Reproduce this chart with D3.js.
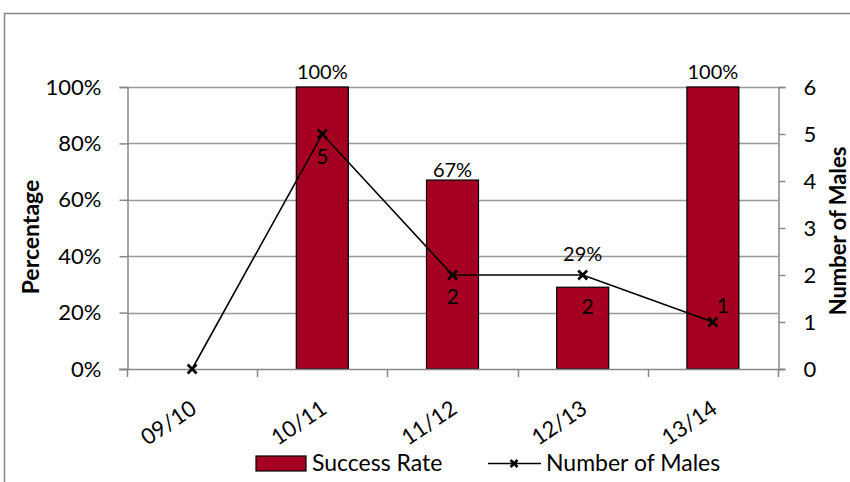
<!DOCTYPE html>
<html><head><meta charset="utf-8">
<script src="https://cdn.jsdelivr.net/npm/d3@7"></script>
<style>body{margin:0;background:#fff}svg{display:block}text{font-family:Lato,"Open Sans",sans-serif}</style>
</head><body>
<svg id="c" width="850" height="482"></svg>
<script>
const categories = ["09/10","10/11","11/12","12/13","13/14"];
const successRate = [null, 1.00, 0.67, 0.29, 1.00];
const successLabels = ["", "100%", "67%", "29%", "100%"];
const numberOfMales = [0, 5, 2, 2, 1];
const pctTicks = [0, 0.2, 0.4, 0.6, 0.8, 1.0];
const countTicks = [0, 1, 2, 3, 4, 5, 6];

const svg = d3.select("#c");
const M = {l:127, r:778, t:87, b:369};
const fs = 22;

// outer frame
svg.append("rect").attr("x",4.5).attr("y",13.5).attr("width",860).attr("height",490)
  .attr("fill","none").attr("stroke","#888").attr("stroke-width",1.5);

const x = d3.scaleBand().domain(categories).range([M.l, M.r]).paddingInner(0).paddingOuter(0);
const yL = d3.scaleLinear().domain([0,1]).range([M.b, M.t]);
const yR = d3.scaleLinear().domain([0,6]).range([M.b, M.t]);

// gridlines
svg.append("g").selectAll("line").data(pctTicks.filter(d=>d>0)).join("line")
  .attr("x1",M.l).attr("x2",M.r).attr("y1",d=>Math.round(yL(d))+0.5).attr("y2",d=>Math.round(yL(d))+0.5)
  .attr("stroke","#999").attr("stroke-width",1.3);

// bars
const bw = 52;
svg.append("g").selectAll("rect").data(categories.map((c,i)=>({c,v:successRate[i]})).filter(d=>d.v!=null)).join("rect")
  .attr("x",d=>x(d.c)+x.bandwidth()/2-bw/2).attr("width",bw)
  .attr("y",d=>yL(d.v)).attr("height",d=>yL(0)-yL(d.v))
  .attr("fill","#A50021").attr("stroke","#000").attr("stroke-width",1.2);

// left axis
const axL = svg.append("g").attr("transform",`translate(${M.l+0.5},0)`)
  .call(d3.axisLeft(yL).tickValues(pctTicks).tickFormat(d3.format(".0%")).tickSize(8).tickPadding(18));
axL.select(".domain").attr("stroke","#888").attr("stroke-width",1.5);
axL.selectAll(".tick line").attr("stroke","#888").attr("stroke-width",1.5);
axL.selectAll("text").attr("font-size",fs).attr("fill","#000").style("font-family","Lato, sans-serif");

// right axis
const axR = svg.append("g").attr("transform",`translate(${M.r+0.5},0)`)
  .call(d3.axisRight(yR).tickValues(countTicks).tickFormat(d3.format("d")).tickSize(7).tickPadding(18));
axR.select(".domain").attr("stroke","#888").attr("stroke-width",1.5);
axR.selectAll(".tick line").attr("stroke","#888").attr("stroke-width",1.5);
axR.selectAll("text").attr("font-size",fs).attr("fill","#000").style("font-family","Lato, sans-serif");

// bottom axis
const bounds = categories.map(c=>x(c)).concat([M.r]);
const axB = svg.append("g");
axB.append("line").attr("x1",M.l-8).attr("x2",M.r+6).attr("y1",M.b+0.5).attr("y2",M.b+0.5)
  .attr("stroke","#888").attr("stroke-width",1.5);
axB.selectAll("line.t").data(bounds).join("line").attr("class","t")
  .attr("x1",d=>Math.round(d)+0.5).attr("x2",d=>Math.round(d)+0.5).attr("y1",M.b).attr("y2",M.b+8)
  .attr("stroke","#888").attr("stroke-width",1.5);
axB.selectAll("text").data(categories).join("text")
  .attr("transform",d=>`translate(${x(d)+x.bandwidth()/2+6},${M.b+43}) rotate(-34)`)
  .attr("text-anchor","end").attr("font-size",fs).attr("fill","#000").text(d=>d);

// line series
const pts = categories.map((c,i)=>({c,v:numberOfMales[i]}));
const line = d3.line().x(d=>x(d.c)+x.bandwidth()/2).y(d=>yR(d.v));
svg.append("path").datum(pts).attr("d",line).attr("fill","none").attr("stroke","#000").attr("stroke-width",1.6);
const mk = 4.5;
const markers = svg.append("g").selectAll("g").data(pts).join("g")
  .attr("transform",d=>`translate(${x(d.c)+x.bandwidth()/2},${yR(d.v)})`);
markers.append("path").attr("d",`M${-mk},${-mk}L${mk},${mk}M${-mk},${mk}L${mk},${-mk}`)
  .attr("stroke","#000").attr("stroke-width",2.6);

// bar labels
const dfs = 20;
const barLabelDy = [0, -8, -3, -26, -8];
svg.append("g").selectAll("text").data(categories.map((c,i)=>({c,v:successRate[i],t:successLabels[i],dy:barLabelDy[i]})).filter(d=>d.v!=null)).join("text")
  .attr("x",d=>x(d.c)+x.bandwidth()/2).attr("y",d=>yL(d.v)+d.dy)
  .attr("text-anchor","middle").attr("font-size",dfs).attr("fill","#000").text(d=>d.t);

// line labels
const lineLabelOff = [null,[0,30],[0,29],[5,39],[10,-9]];
svg.append("g").selectAll("text").data(pts.map((p,i)=>({...p,o:lineLabelOff[i]})).filter(d=>d.o)).join("text")
  .attr("x",d=>x(d.c)+x.bandwidth()/2+d.o[0]).attr("y",d=>yR(d.v)+d.o[1])
  .attr("text-anchor","middle").attr("font-size",21).attr("fill","#000").text(d=>d.v);

// axis titles
svg.append("text").attr("transform",`translate(39,237) rotate(-90)`)
  .attr("text-anchor","middle").attr("font-size",23).attr("font-weight","bold").text("Percentage");
svg.append("text").attr("transform",`translate(846,231) rotate(-90)`)
  .attr("text-anchor","middle").attr("font-size",22).attr("font-weight","bold").text("Number of Males");

// legend
const lg = svg.append("g");
lg.append("rect").attr("x",256).attr("y",456).attr("width",50).attr("height",15)
  .attr("fill","#A50021").attr("stroke","#000").attr("stroke-width",1.2);
lg.append("text").attr("x",312).attr("y",471).attr("font-size",23).text("Success Rate");
lg.append("line").attr("x1",488).attr("x2",541).attr("y1",463.5).attr("y2",463.5).attr("stroke","#000").attr("stroke-width",1.6);
lg.append("path").attr("transform","translate(514,463.5)").attr("d",`M-3.5,-3.5L3.5,3.5M-3.5,3.5L3.5,-3.5`).attr("stroke","#000").attr("stroke-width",2.6);
lg.append("text").attr("x",546).attr("y",471).attr("font-size",23).text("Number of Males");
</script>
</body></html>
